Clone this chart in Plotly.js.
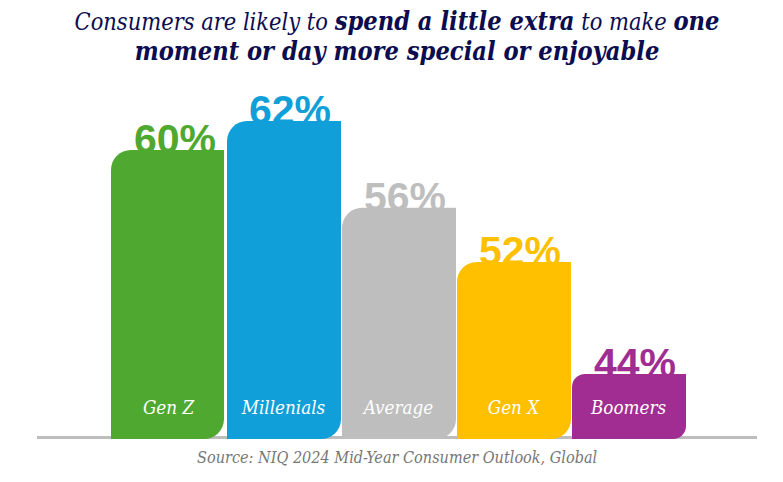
<!DOCTYPE html>
<html><head><meta charset="utf-8">
<script src="https://cdn.plot.ly/plotly-3.0.1.min.js"></script>
<style>html,body{margin:0;padding:0;background:#fff}</style></head>
<body><div id="chart" style="width:783px;height:482px"></div>
<script>
const categories = ["Gen Z","Millenials","Average","Gen X","Boomers"];
const valueLabels = ["60%","62%","56%","52%","44%"];
// bar heights, on the chart's truncated scale
const barValues = [60,62,56,52.25,44.5];
const barColors = ["#4fa82f","#109fd8","#bebebe","#ffc000","#a12d92"];
const cornerRadii = [20,20,20,20,13];
const serif = '"DejaVu Serif Condensed","DejaVu Serif",serif';
const bold = s => `<span style="font-size:25.2px"><b>${s}</b></span>`;
const titleText = 'Consumers are likely to '+bold('spend a little extra')+' to make '+bold('one')+'<br>'+bold('moment or day more special or enjoyable');
const sourceText = 'Source: NIQ 2024 Mid-Year Consumer Outlook, Global';

const W=783,H=482,ml=37,mr=26,mt=80,mb=32;
const pxPerUnit=14.45, basePx=439, baseVal=40;
const yRange=[baseVal-(H-mb-basePx)/pxPerUnit, baseVal+(basePx-mt)/pxPerUnit];
const slot=115, x0c=(168.5-ml)/slot;
const xRange=[-x0c, -x0c+(W-ml-mr)/slot];
const positions=categories.map((_,i)=>i);
const barWidths=[113,114,114,114,114].map(p=>p/slot);
const barOffsets=[-57.5,-56.5,-56.5,-56.5,-56.5].map(p=>p/slot);
const labelShift=6.5/slot;

const valueTrace={type:'scatter',mode:'text',x:positions.map(p=>p+labelShift),y:barValues.map(v=>v-0.9),text:valueLabels,
  textposition:'top center',cliponaxis:false,hoverinfo:'skip',
  textfont:{family:'"Liberation Sans",Arial,sans-serif',size:41,weight:700,color:barColors},xaxis:'x',yaxis:'y'};
const barTrace={type:'bar',x:positions,y:barValues.map(v=>v-baseVal),base:baseVal,width:barWidths,offset:barOffsets,
  marker:{color:barColors,line:{width:0}},xaxis:'x',yaxis:'y2',hoverinfo:'skip'};
const nameTrace={type:'scatter',mode:'text',x:positions,y:categories.map(()=>baseVal+2.03),text:categories,
  textposition:'middle center',hoverinfo:'skip',
  textfont:{family:serif,size:18.7,style:'italic',color:'#ffffff'},xaxis:'x',yaxis:'y2'};

const layout={width:W,height:H,margin:{l:ml,r:mr,t:mt,b:mb,pad:0},paper_bgcolor:'#fff',plot_bgcolor:'#fff',
  showlegend:false,
  title:{text:titleText,x:0.507,xanchor:'center',y:0.938,yanchor:'top',
    font:{family:serif,size:23.4,style:'italic',color:'#0c0c4f'}},
  xaxis:{type:'linear',range:xRange,visible:false,fixedrange:true},
  yaxis:{range:yRange,visible:false,fixedrange:true},
  yaxis2:{range:yRange,visible:false,overlaying:'y',fixedrange:true},
  shapes:[{type:'line',layer:'below',xref:'paper',x0:0,x1:1,yref:'y',y0:baseVal+1.5/pxPerUnit,y1:baseVal+1.5/pxPerUnit,
    line:{color:'#bdbdbd',width:3}}],
  annotations:[{text:sourceText,xref:'paper',yref:'paper',x:(397-ml)/(W-ml-mr),y:-(457-(H-mb))/(H-mt-mb),
    xanchor:'center',yanchor:'middle',showarrow:false,
    font:{family:serif,size:16.1,style:'italic',color:'#777777'}}]};

Plotly.newPlot('chart',[valueTrace,barTrace,nameTrace],layout,{displayModeBar:false,staticPlot:true}).then(()=>{
  document.querySelectorAll('#chart .barlayer .point path').forEach((p,i)=>{
    const b=p.getBBox(), r=cornerRadii[i];
    const l=b.x,t=b.y,R=b.x+b.width,B=b.y+b.height;
    p.setAttribute('d',`M${l},${B}V${t+r}A${r},${r} 0 0 1 ${l+r},${t}H${R}V${B-r}A${r},${r} 0 0 1 ${R-r},${B}Z`);
  });
});
</script></body></html>
